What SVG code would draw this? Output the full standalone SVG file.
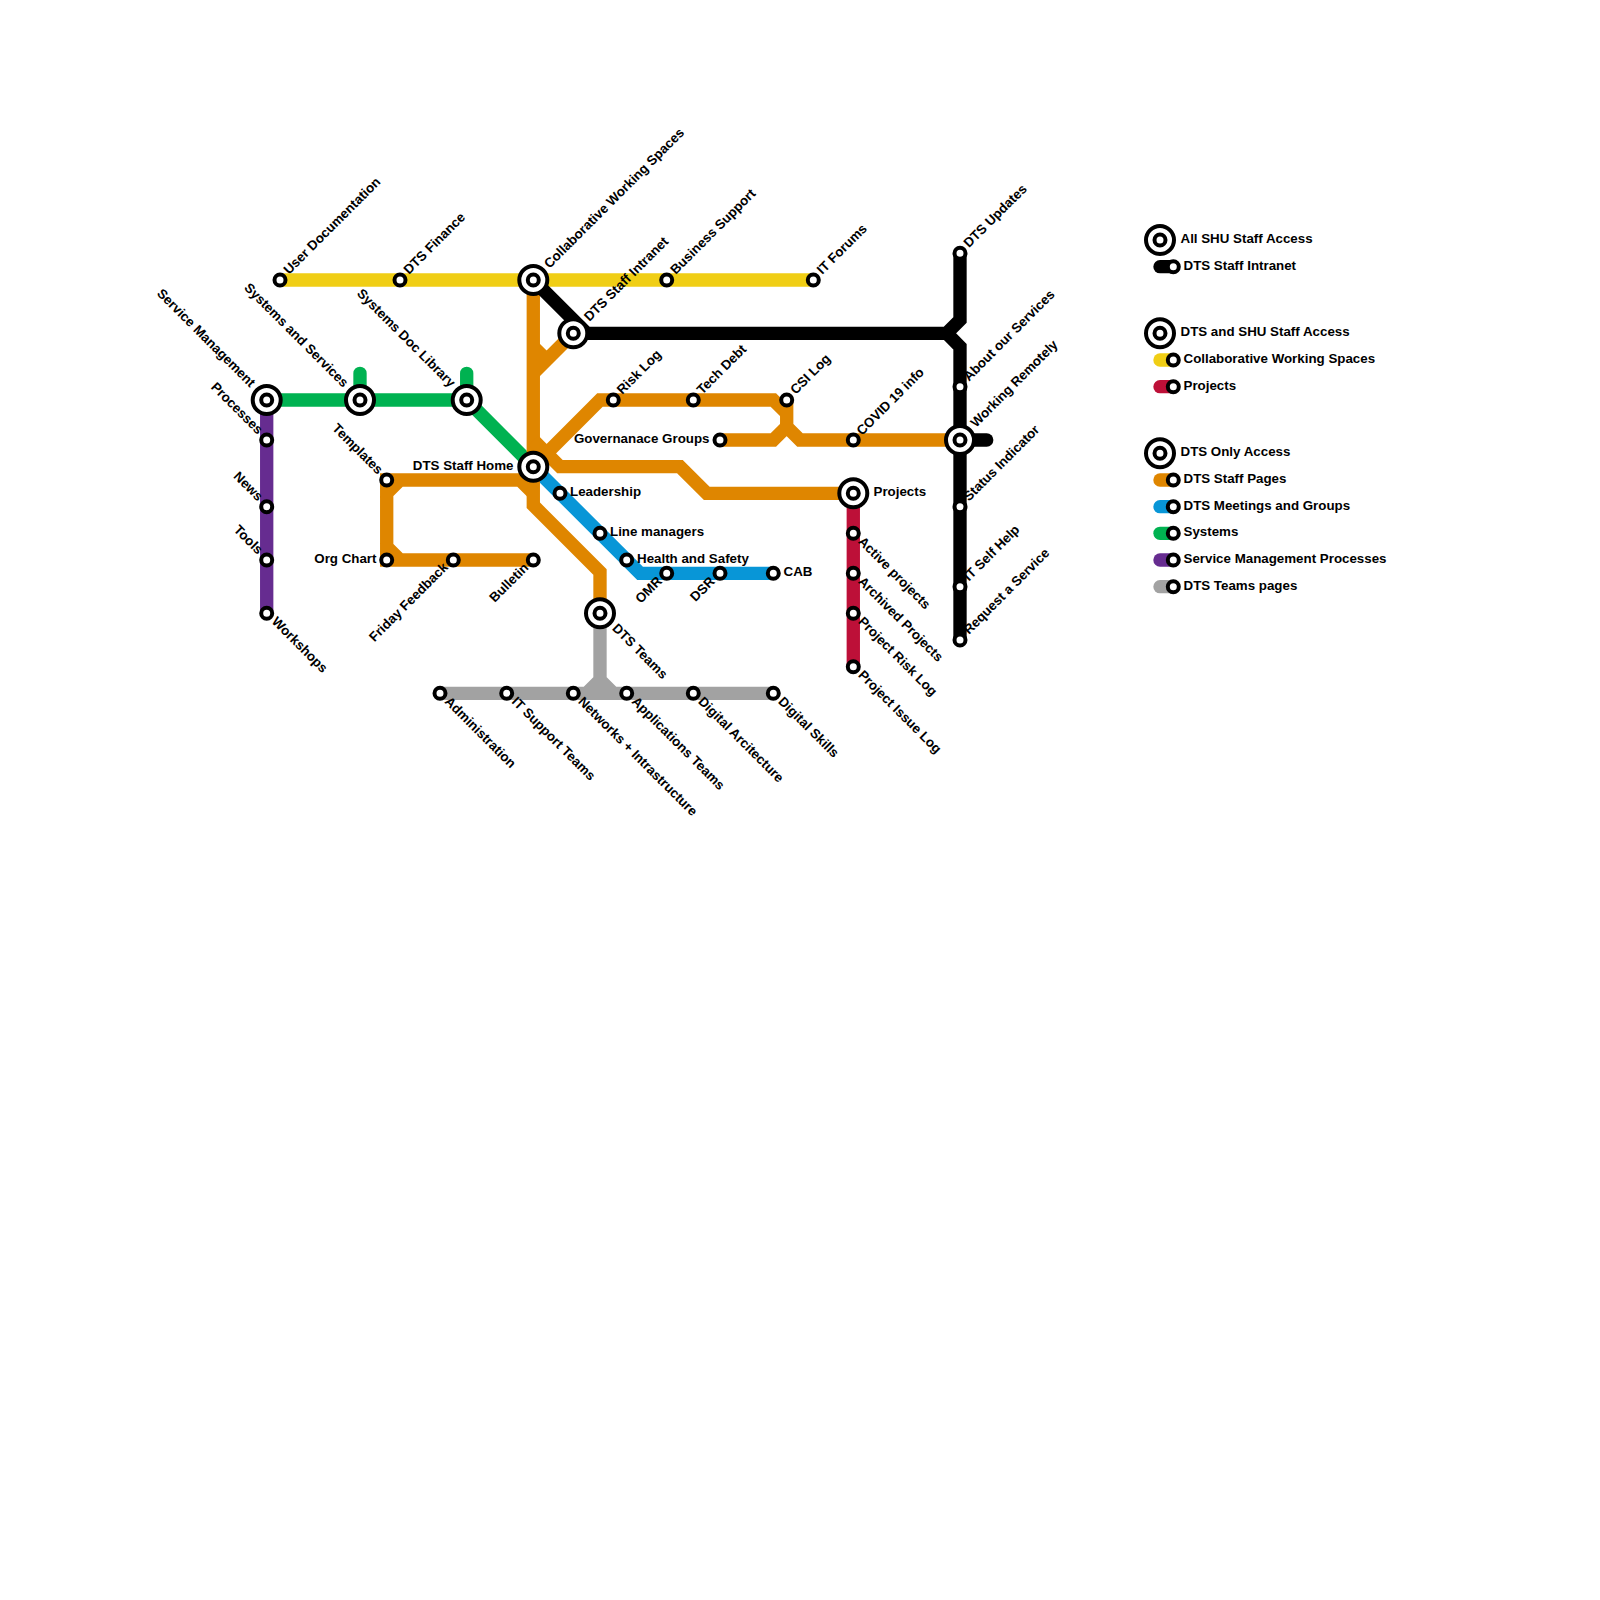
<svg xmlns="http://www.w3.org/2000/svg" width="1600" height="1600" viewBox="0 0 1600 1600">
<style>
text{font-family:"Liberation Sans",Arial,sans-serif;font-size:13.33px;font-weight:700;fill:#000}
.e{text-anchor:end}
.l{fill:none;stroke-width:13.33;stroke-linejoin:miter;stroke-miterlimit:10}
.r{stroke-linecap:round}
.y{stroke:#f0ce15}.o{stroke:#df8600}.b{stroke:#0896d7}.g{stroke:#00b251}.p{stroke:#662c90}.c{stroke:#bd1038}.s{stroke:#a2a2a2}.k{stroke:#000}
.st{fill:#fff;stroke:#000;stroke-width:4}
</style>
<rect width="1600" height="1600" fill="#fff"/>
<g id="connectors">
<path class="l y" d="M280 280H813.3"/>
<path class="l g" d="M266.7 400H466.7L533.3 466.7"/>
<path class="l g r" d="M360 400V373.3M466.7 400V373.3"/>
<path class="l p" d="M266.7 400V613.3"/>
<path class="l b" d="M533.3 466.7L640 573.3H773.3"/>
<path class="l c" d="M853.3 493.3V666.7"/>
<path class="l s" d="M600 613.3V680M440 693.3H773.3M600 680L586.7 693.3M600 680L613.3 693.3"/>
<path class="l o" d="M533.3 280V505.3L600 572V613.3"/>
<path class="l o" d="M533.3 346.7L546.7 360M573.3 333.3L533.3 373.3"/>
<path class="l o" d="M533.3 466.7L600 400H773.3L786.7 413.3"/>
<path class="l o" d="M533.3 440L560 466.7H680L706.7 493.3H853.3"/>
<path class="l o" d="M720 440H773.3L786.7 426.7V400M786.7 426.7L800 440H960"/>
<path class="l o" d="M533.3 493.3L520 480H380M386.7 473.3V566.7M400 480L386.7 493.3M386.7 546.7L400 560M380 560H533.3"/>
<path class="l k" d="M533.3 280L586.7 333.3H946.7L960 320V253.3M946.7 333.3L960 346.7V640"/>
<path class="l k r" d="M960 440H986.7"/>
</g>
<g id="user-documentation"><circle class="st" cx="280" cy="280" r="5.5"/><text transform="translate(289,275) rotate(-45)">User Documentation</text></g>
<g id="dts-finance"><circle class="st" cx="400" cy="280" r="5.5"/><text transform="translate(409,275) rotate(-45)">DTS Finance</text></g>
<g id="collaborative-working-spaces"><circle class="st" cx="533.3" cy="280" r="14"/><circle class="st" cx="533.3" cy="280" r="5.5"/><text transform="translate(549.5,269) rotate(-45)">Collaborative Working Spaces</text></g>
<g id="dts-staff-intranet"><circle class="st" cx="573.3" cy="333.3" r="14"/><circle class="st" cx="573.3" cy="333.3" r="5.5"/><text transform="translate(589.5,322) rotate(-45)">DTS Staff Intranet</text></g>
<g id="business-support"><circle class="st" cx="666.7" cy="280" r="5.5"/><text transform="translate(675.7,275) rotate(-45)">Business Support</text></g>
<g id="it-forums"><circle class="st" cx="813.3" cy="280" r="5.5"/><text transform="translate(822.3,275) rotate(-45)">IT Forums</text></g>
<g id="risk-log"><circle class="st" cx="613.3" cy="400" r="5.5"/><text transform="translate(622.3,395) rotate(-45)">Risk Log</text></g>
<g id="tech-debt"><circle class="st" cx="693.3" cy="400" r="5.5"/><text transform="translate(702.3,395) rotate(-45)">Tech Debt</text></g>
<g id="csi-log"><circle class="st" cx="786.7" cy="400" r="5.5"/><text transform="translate(795.7,395) rotate(-45)">CSI Log</text></g>
<g id="covid-19-info"><circle class="st" cx="853.3" cy="440" r="5.5"/><text transform="translate(862,436) rotate(-45)">COVID 19 info</text></g>
<g id="dts-updates"><circle class="st" cx="960" cy="253.3" r="5.5"/><text transform="translate(969,248.3) rotate(-45)">DTS Updates</text></g>
<g id="about-our-services"><circle class="st" cx="960" cy="386.7" r="5.5"/><text transform="translate(969,381.7) rotate(-45)">About our Services</text></g>
<g id="working-remotely"><circle class="st" cx="960" cy="440" r="14"/><circle class="st" cx="960" cy="440" r="5.5"/><text transform="translate(976,428) rotate(-45)">Working Remotely</text></g>
<g id="status-indicator"><circle class="st" cx="960" cy="506.7" r="5.5"/><text transform="translate(969,501.7) rotate(-45)">Status Indicator</text></g>
<g id="it-self-help"><circle class="st" cx="960" cy="586.7" r="5.5"/><text transform="translate(969,581.7) rotate(-45)">IT Self Help</text></g>
<g id="request-a-service"><circle class="st" cx="960" cy="640" r="5.5"/><text transform="translate(969,635) rotate(-45)">Request a Service</text></g>
<g id="service-management"><circle class="st" cx="266.7" cy="400" r="14"/><circle class="st" cx="266.7" cy="400" r="5.5"/><text class="e" transform="translate(250,388) rotate(45)">Service Management</text></g>
<g id="systems-and-services"><circle class="st" cx="360" cy="400" r="14"/><circle class="st" cx="360" cy="400" r="5.5"/><text class="e" transform="translate(343,388) rotate(45)">Systems and Services</text></g>
<g id="systems-doc-library"><circle class="st" cx="466.7" cy="400" r="14"/><circle class="st" cx="466.7" cy="400" r="5.5"/><text class="e" transform="translate(450,388) rotate(45)">Systems Doc Library</text></g>
<g id="processes"><circle class="st" cx="266.7" cy="440" r="5.5"/><text class="e" transform="translate(257.5,435) rotate(45)">Processes</text></g>
<g id="news"><circle class="st" cx="266.7" cy="506.7" r="5.5"/><text class="e" transform="translate(257.5,501.7) rotate(45)">News</text></g>
<g id="tools"><circle class="st" cx="266.7" cy="560" r="5.5"/><text class="e" transform="translate(257.5,555) rotate(45)">Tools</text></g>
<g id="workshops"><circle class="st" cx="266.7" cy="613.3" r="5.5"/><text transform="translate(271,622.3) rotate(45)">Workshops</text></g>
<g id="templates"><circle class="st" cx="386.7" cy="480" r="5.5"/><text class="e" transform="translate(377.5,475) rotate(45)">Templates</text></g>
<g id="org-chart"><circle class="st" cx="386.7" cy="560" r="5.5"/><text class="e" x="376.5" y="563">Org Chart</text></g>
<g id="friday-feedback"><circle class="st" cx="453.3" cy="560" r="5.5"/><text class="e" transform="translate(448.8,568) rotate(-45)">Friday Feedback</text></g>
<g id="bulletin"><circle class="st" cx="533.3" cy="560" r="5.5"/><text class="e" transform="translate(529.3,568.5) rotate(-45)">Bulletin</text></g>
<g id="dts-staff-home"><circle class="st" cx="533.3" cy="466.7" r="14"/><circle class="st" cx="533.3" cy="466.7" r="5.5"/><text class="e" x="513.5" y="469.7">DTS Staff Home</text></g>
<g id="leadership"><circle class="st" cx="560" cy="493.3" r="5.5"/><text x="570" y="496.2">Leadership</text></g>
<g id="line-managers"><circle class="st" cx="600" cy="533.3" r="5.5"/><text x="610" y="536.2">Line managers</text></g>
<g id="health-and-safety"><circle class="st" cx="626.7" cy="560" r="5.5"/><text x="637" y="563">Health and Safety</text></g>
<g id="omr"><circle class="st" cx="666.7" cy="573.3" r="5.5"/><text class="e" transform="translate(662.7,582) rotate(-45)">OMR</text></g>
<g id="dsr"><circle class="st" cx="720" cy="573.3" r="5.5"/><text class="e" transform="translate(715.5,582.3) rotate(-45)">DSR</text></g>
<g id="cab"><circle class="st" cx="773.3" cy="573.3" r="5.5"/><text x="783.5" y="576.2">CAB</text></g>
<g id="governanace-groups"><circle class="st" cx="720" cy="440" r="5.5"/><text class="e" x="709.5" y="443">Governanace Groups</text></g>
<g id="projects"><circle class="st" cx="853.3" cy="493.3" r="14"/><circle class="st" cx="853.3" cy="493.3" r="5.5"/><text x="873.5" y="496.2">Projects</text></g>
<g id="active-projects"><circle class="st" cx="853.3" cy="533.3" r="5.5"/><text transform="translate(857.5,542.3) rotate(45)">Active projects</text></g>
<g id="archived-projects"><circle class="st" cx="853.3" cy="573.3" r="5.5"/><text transform="translate(857.5,582.3) rotate(45)">Archived Projects</text></g>
<g id="project-risk-log"><circle class="st" cx="853.3" cy="613.3" r="5.5"/><text transform="translate(857.5,622.3) rotate(45)">Project Risk Log</text></g>
<g id="project-issue-log"><circle class="st" cx="853.3" cy="666.7" r="5.5"/><text transform="translate(857.5,675.7) rotate(45)">Project Issue Log</text></g>
<g id="dts-teams"><circle class="st" cx="600" cy="613.3" r="14"/><circle class="st" cx="600" cy="613.3" r="5.5"/><text transform="translate(611.5,629) rotate(45)">DTS Teams</text></g>
<g id="administration"><circle class="st" cx="440" cy="693.3" r="5.5"/><text transform="translate(444,702.3) rotate(45)">Administration</text></g>
<g id="it-support-teams"><circle class="st" cx="506.7" cy="693.3" r="5.5"/><text transform="translate(511,702.3) rotate(45)">IT Support Teams</text></g>
<g id="networks-intrastructure"><circle class="st" cx="573.3" cy="693.3" r="5.5"/><text transform="translate(577.5,702.3) rotate(45)">Networks + Intrastructure</text></g>
<g id="applications-teams"><circle class="st" cx="626.7" cy="693.3" r="5.5"/><text transform="translate(631,702.3) rotate(45)">Applications Teams</text></g>
<g id="digital-arcitecture"><circle class="st" cx="693.3" cy="693.3" r="5.5"/><text transform="translate(697.5,702.3) rotate(45)">Digital Arcitecture</text></g>
<g id="digital-skills"><circle class="st" cx="773.3" cy="693.3" r="5.5"/><text transform="translate(777.5,702.3) rotate(45)">Digital Skills</text></g>
<g id="legend">
<path class="l r k" d="M1160 266.7H1173.3"/>
<path class="l r y" d="M1160 360H1173.3"/>
<path class="l r c" d="M1160 386.7H1173.3"/>
<path class="l r o" d="M1160 480H1173.3"/>
<path class="l r b" d="M1160 506.7H1173.3"/>
<path class="l r g" d="M1160 533.3H1173.3"/>
<path class="l r p" d="M1160 560H1173.3"/>
<path class="l r s" d="M1160 586.7H1173.3"/>
<circle class="st" cx="1160" cy="240" r="14"/><circle class="st" cx="1160" cy="240" r="5.5"/><text x="1180.5" y="243.2">All SHU Staff Access</text>
<circle class="st" cx="1173.3" cy="266.7" r="5.5"/><text x="1183.5" y="270">DTS Staff Intranet</text>
<circle class="st" cx="1160" cy="333.3" r="14"/><circle class="st" cx="1160" cy="333.3" r="5.5"/><text x="1180.5" y="336.2">DTS and SHU Staff Access</text>
<circle class="st" cx="1173.3" cy="360" r="5.5"/><text x="1183.5" y="363">Collaborative Working Spaces</text>
<circle class="st" cx="1173.3" cy="386.7" r="5.5"/><text x="1183.5" y="389.7">Projects</text>
<circle class="st" cx="1160" cy="453.3" r="14"/><circle class="st" cx="1160" cy="453.3" r="5.5"/><text x="1180.5" y="456.2">DTS Only Access</text>
<circle class="st" cx="1173.3" cy="480" r="5.5"/><text x="1183.5" y="483">DTS Staff Pages</text>
<circle class="st" cx="1173.3" cy="506.7" r="5.5"/><text x="1183.5" y="509.7">DTS Meetings and Groups</text>
<circle class="st" cx="1173.3" cy="533.3" r="5.5"/><text x="1183.5" y="536.2">Systems</text>
<circle class="st" cx="1173.3" cy="560" r="5.5"/><text x="1183.5" y="563">Service Management Processes</text>
<circle class="st" cx="1173.3" cy="586.7" r="5.5"/><text x="1183.5" y="589.7">DTS Teams pages</text>
</g>
</svg>
